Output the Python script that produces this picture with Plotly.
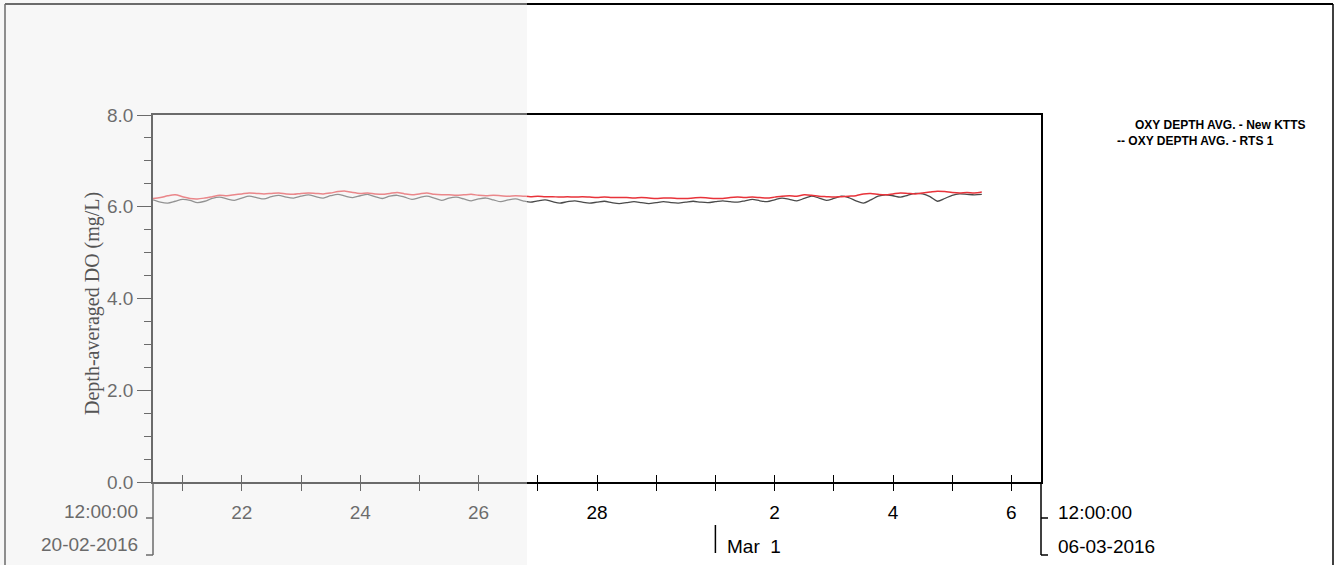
import plotly.graph_objects as go
import pandas as pd

# ---------------- data ----------------
start_time = "2016-02-20 12:00"
step = "3h"
# Depth-averaged DO, New KTTS (red), 3-hourly from 20-02-2016 12:00
kts_values = [
    6.18, 6.20, 6.24, 6.26, 6.22, 6.18, 6.17, 6.19,
    6.22, 6.25, 6.24, 6.26, 6.28, 6.30, 6.29, 6.28,
    6.29, 6.30, 6.28, 6.27, 6.29, 6.30, 6.29, 6.28,
    6.30, 6.33, 6.34, 6.31, 6.29, 6.30, 6.28, 6.27,
    6.29, 6.31, 6.28, 6.26, 6.28, 6.30, 6.27, 6.26,
    6.26, 6.25, 6.26, 6.27, 6.25, 6.24, 6.25, 6.24,
    6.23, 6.24, 6.23, 6.22, 6.23, 6.22, 6.22, 6.21,
    6.22, 6.21, 6.22, 6.21, 6.20, 6.21, 6.20, 6.20,
    6.20, 6.19, 6.20, 6.19, 6.18, 6.19, 6.19, 6.18,
    6.18, 6.19, 6.20, 6.19, 6.18, 6.18, 6.20, 6.21,
    6.20, 6.21, 6.20, 6.19, 6.21, 6.23, 6.24, 6.23,
    6.26, 6.25, 6.23, 6.22, 6.21, 6.22, 6.23, 6.24,
    6.28, 6.29, 6.27, 6.26, 6.28, 6.30, 6.29, 6.28,
    6.30, 6.32, 6.34, 6.33, 6.31, 6.30, 6.31, 6.30,
    6.32,
]
# Depth-averaged DO, RTS 1 (dark grey)
rts_values = [
    6.15, 6.10, 6.08, 6.12, 6.16, 6.14, 6.09, 6.12,
    6.18, 6.21, 6.17, 6.14, 6.19, 6.23, 6.20, 6.17,
    6.22, 6.25, 6.21, 6.19, 6.23, 6.26, 6.22, 6.19,
    6.24, 6.27, 6.23, 6.20, 6.24, 6.27, 6.22, 6.18,
    6.23, 6.25, 6.21, 6.16, 6.20, 6.23, 6.19, 6.14,
    6.19, 6.21, 6.17, 6.13, 6.17, 6.19, 6.15, 6.11,
    6.15, 6.17, 6.13, 6.10, 6.13, 6.15, 6.11, 6.08,
    6.11, 6.13, 6.10, 6.08, 6.10, 6.12, 6.09, 6.07,
    6.09, 6.11, 6.09, 6.07, 6.09, 6.11, 6.09, 6.08,
    6.10, 6.12, 6.10, 6.09, 6.11, 6.13, 6.11, 6.10,
    6.13, 6.16, 6.13, 6.11, 6.15, 6.19, 6.16, 6.13,
    6.18, 6.23, 6.19, 6.14, 6.18, 6.23, 6.20, 6.13,
    6.08, 6.15, 6.23, 6.26, 6.24, 6.21, 6.25, 6.29,
    6.28, 6.22, 6.12, 6.18, 6.25, 6.28, 6.27, 6.26,
    6.27,
]
times = pd.date_range(start_time, periods=len(kts_values), freq=step)

x_range = ["2016-02-20 12:00", "2016-03-06 12:00"]
day_ticks = pd.date_range("2016-02-21", "2016-03-06", freq="D")
day_labels = ["", "22", "", "24", "", "26", "", "28", "", "", "2", "", "4", "", "6"]
y_range = [0, 8]
y_ticks = [0, 2, 4, 6, 8]

legend_lines = ["OXY DEPTH AVG. - New KTTS", "-- OXY DEPTH AVG. - RTS 1"]

# ---------------- geometry helpers (pixels -> paper) ----------------
W, H = 1336, 565
L, R, T, B = 153, 1041, 115, 482
def px(xp):
    return (xp - L) / (R - L)
def py(yp):
    return (B - yp) / (B - T)

FONT = "Liberation Sans, Arial, sans-serif"

fig = go.Figure()
fig.add_trace(go.Scatter(x=times, y=rts_values, mode="lines", name="OXY DEPTH AVG. - RTS 1",
                         line=dict(color="#4a4a4a", width=1.3, shape="spline", smoothing=0.8),
                         showlegend=False))
fig.add_trace(go.Scatter(x=times, y=kts_values, mode="lines", name="OXY DEPTH AVG. - New KTTS",
                         line=dict(color="#e8333a", width=1.5, shape="spline", smoothing=0.8),
                         showlegend=False))
# helper trace for the inside-tick overlay axis
fig.add_trace(go.Scatter(x=x_range, y=[None, None], xaxis="x2", mode="lines",
                         showlegend=False, hoverinfo="skip"))

fig.update_layout(
    width=W, height=H,
    margin=dict(l=L, r=W - R, t=T, b=H - B),
    paper_bgcolor="white", plot_bgcolor="white",
    font=dict(family=FONT, color="black", size=19),
    xaxis=dict(type="date", range=x_range, tickvals=day_ticks, ticktext=day_labels,
               ticks="outside", ticklen=7, tickwidth=1.3, tickcolor="black",
               showline=True, linecolor="black", linewidth=1.5, mirror=True,
               showgrid=False, zeroline=False, ticklabelstandoff=5,
               tickfont=dict(size=19, family=FONT)),
    xaxis2=dict(type="date", range=x_range, overlaying="x", anchor="y", side="bottom",
                tickvals=day_ticks, ticks="inside", ticklen=7, tickwidth=1.3,
                tickcolor="black", showticklabels=False, showline=False,
                showgrid=False, zeroline=False),
    yaxis=dict(range=y_range, tickvals=y_ticks, tickformat=".1f",
               ticks="outside", ticklen=14, tickwidth=1.3, tickcolor="black",
               minor=dict(dtick=0.5, ticks="outside", ticklen=7, tickwidth=1.2, tickcolor="black"),
               showline=True, linecolor="black", linewidth=1.5, mirror=True,
               showgrid=False, zeroline=False, tickfont=dict(size=19, family=FONT)),
)

shapes = []
line_k = dict(color="black", width=1.5)
# outer frame of the sheet
shapes.append(dict(type="line", xref="paper", yref="paper", x0=px(5), x1=px(1333), y0=py(4), y1=py(4), line=dict(color="black", width=2)))
shapes.append(dict(type="line", xref="paper", yref="paper", x0=px(5), x1=px(5), y0=py(4), y1=py(565), line=dict(color="black", width=1.5)))
shapes.append(dict(type="line", xref="paper", yref="paper", x0=px(1333), x1=px(1333), y0=py(4), y1=py(565), line=dict(color="black", width=1.5)))
# date brackets below the axis
for xb, dx in ((L, -7), (R, 7)):
    shapes.append(dict(type="line", xref="paper", yref="paper", x0=px(xb), x1=px(xb), y0=py(B), y1=py(555), line=line_k))
    shapes.append(dict(type="line", xref="paper", yref="paper", x0=px(xb), x1=px(xb + dx), y0=py(518), y1=py(518), line=line_k))
    shapes.append(dict(type="line", xref="paper", yref="paper", x0=px(xb), x1=px(xb + dx), y0=py(555), y1=py(555), line=line_k))
# month marker tick
shapes.append(dict(type="line", xref="x", yref="paper", x0="2016-03-01", x1="2016-03-01",
                   y0=py(525), y1=py(553), line=dict(color="black", width=1.5)))
# lighter scanned region on the left
shapes.append(dict(type="rect", xref="paper", yref="paper", x0=px(0), x1=px(527), y0=py(565), y1=py(0),
                   fillcolor="rgba(238,238,238,0.45)", line=dict(width=0), layer="above"))
fig.update_layout(shapes=shapes)

ann = []
grey = "#6a6a6a"
ann.append(dict(text="12:00:00", xref="paper", yref="paper", x=px(140), y=py(511), xanchor="right", yanchor="middle",
                showarrow=False, font=dict(size=19, color=grey, family=FONT)))
ann.append(dict(text="20-02-2016", xref="paper", yref="paper", x=px(140), y=py(544), xanchor="right", yanchor="middle",
                showarrow=False, font=dict(size=19, color=grey, family=FONT)))
ann.append(dict(text="12:00:00", xref="paper", yref="paper", x=px(1056), y=py(512), xanchor="left", yanchor="middle",
                showarrow=False, font=dict(size=19, color="black", family=FONT)))
ann.append(dict(text="06-03-2016", xref="paper", yref="paper", x=px(1056), y=py(546), xanchor="left", yanchor="middle",
                showarrow=False, font=dict(size=19, color="black", family=FONT)))
ann.append(dict(text="Mar  1", xref="x", yref="paper", x="2016-03-01", xshift=10, y=py(546), xanchor="left", yanchor="middle",
                showarrow=False, font=dict(size=19, color="black", family=FONT)))
ann.append(dict(text="Depth-averaged DO (mg/L)", xref="paper", yref="paper", x=px(92), y=py(304), textangle=-90,
                xanchor="center", yanchor="middle", showarrow=False,
                font=dict(size=20, color="#555555", family="Liberation Serif, Times New Roman, serif")))
ann.append(dict(text="<b>" + legend_lines[0] + "</b>", xref="paper", yref="paper", x=px(1133), y=py(125), xanchor="left",
                yanchor="middle", showarrow=False, font=dict(size=12, color="black", family=FONT)))
ann.append(dict(text="<b>" + legend_lines[1] + "</b>", xref="paper", yref="paper", x=px(1115), y=py(141), xanchor="left",
                yanchor="middle", showarrow=False, font=dict(size=12, color="black", family=FONT)))
fig.update_layout(annotations=ann)

fig.write_html("out.html", config={"displayModeBar": False},
               post_script="document.body.style.margin='0';")
